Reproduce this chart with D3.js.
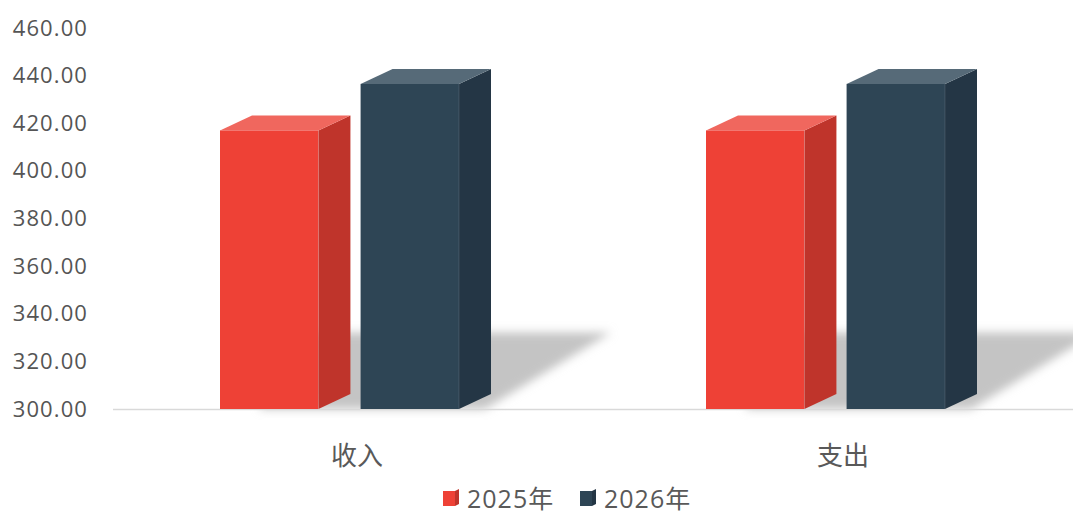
<!DOCTYPE html>
<html>
<head>
<meta charset="utf-8">
<script src="https://cdn.jsdelivr.net/npm/d3@7"></script>
<style>
  html, body { margin: 0; padding: 0; background: #fff; }
  svg { display: block; font-family: "Open Sans", "Noto Sans CJK SC", sans-serif; }
</style>
</head>
<body>
<div id="chart"></div>
<script>
const categories = ['收入', '支出'];
const seriesNames = ['2025年', '2026年'];
const values2025 = [417, 417];
const values2026 = [436.5, 436.5];
const yTicks = [300, 320, 340, 360, 380, 400, 420, 440, 460];

const faces = {
  '2025年': { front: '#ee4136', top: '#f0675e', side: '#bf342b' },
  '2026年': { front: '#2e4555', top: '#566a78', side: '#243645' }
};

const width = 1073, height = 513;
const svg = d3.select('#chart').append('svg')
  .attr('width', width).attr('height', height);

const y = d3.scaleLinear().domain([300, 460]).range([409, 28]);
const x = d3.scaleBand().domain(categories).range([113, 1085]);
const sub = d3.scaleBand().domain(seriesNames).range([-136, 103]).paddingInner(0.3);

const depthX = 32, depthY = 15;

const rows = categories.map((c, i) => ({
  cat: c,
  bars: [
    { name: seriesNames[0], value: values2025[i] },
    { name: seriesNames[1], value: values2026[i] }
  ]
}));

// shadow blur
const defs = svg.append('defs');
defs.append('filter').attr('id', 'blur')
  .attr('x', '-20%').attr('y', '-50%').attr('width', '140%').attr('height', '200%')
  .append('feGaussianBlur').attr('stdDeviation', 5);

// y axis labels
const yAxis = svg.append('g')
  .attr('transform', 'translate(88,0)')
  .call(d3.axisLeft(y).tickValues(yTicks).tickFormat(d3.format('.2f')).tickSize(0).tickPadding(0));
yAxis.select('.domain').remove();
yAxis.selectAll('text')
  .attr('fill', '#555555')
  .style('font-size', '22px')
  .style('letter-spacing', '1.1px')
  .style('font-family', '"Open Sans", sans-serif');

// cast shadows
const base = y(300);
svg.append('g').selectAll('polygon')
  .data(rows)
  .join('polygon')
  .attr('filter', 'url(#blur)')
  .attr('fill', '#c4c4c4')
  .attr('points', d => {
    const cx = x(d.cat) + x.bandwidth() / 2;
    const left = cx + sub(seriesNames[0]) + 40;
    const right = cx + sub(seriesNames[1]) + sub.bandwidth();
    const h = base - y(d3.max(d.bars, b => b.value));
    const top = base - h * 0.235;
    return [[left, base], [left + 20, top], [right + 152, top], [right + 26, base]]
      .map(p => p.join(',')).join(' ');
  });

// baseline
svg.append('line')
  .attr('x1', 113).attr('x2', width)
  .attr('y1', base + 0.5).attr('y2', base + 0.5)
  .attr('stroke', '#d9d9d9').attr('stroke-width', 1.5);

// 3D bars
const bars = svg.append('g').selectAll('g.cat')
  .data(rows)
  .join('g')
  .attr('class', 'cat')
  .attr('transform', d => `translate(${x(d.cat) + x.bandwidth() / 2},0)`)
  .selectAll('g.bar')
  .data(d => d.bars)
  .join('g')
  .attr('class', 'bar');

bars.each(function (d) {
  const g = d3.select(this);
  const x0 = sub(d.name), w = sub.bandwidth();
  const yt = y(d.value);
  const f = faces[d.name];
  g.append('rect')
    .attr('x', x0).attr('y', yt).attr('width', w).attr('height', base - yt)
    .attr('fill', f.front);
  g.append('polygon')
    .attr('fill', f.side)
    .attr('points', [[x0 + w, yt], [x0 + w + depthX, yt - depthY], [x0 + w + depthX, base - depthY], [x0 + w, base]]
      .map(p => p.join(',')).join(' '));
  g.append('polygon')
    .attr('fill', f.top)
    .attr('points', [[x0, yt], [x0 + depthX, yt - depthY], [x0 + w + depthX, yt - depthY], [x0 + w, yt]]
      .map(p => p.join(',')).join(' '));
  g.append('line')
    .attr('x1', x0 + w).attr('x2', x0 + w).attr('y1', yt).attr('y2', base)
    .attr('stroke', '#ffffff').attr('stroke-opacity', 0.12).attr('stroke-width', 1);
});

// category labels
svg.append('g').selectAll('text')
  .data(categories)
  .join('text')
  .attr('x', d => x(d) + x.bandwidth() / 2 + 1)
  .attr('y', 465)
  .attr('text-anchor', 'middle')
  .attr('fill', '#595959')
  .style('font-size', '26px')
  .text(d => d);

// legend
const legendX = [443, 580];
const legend = svg.append('g').selectAll('g')
  .data(seriesNames)
  .join('g')
  .attr('transform', (d, i) => `translate(${legendX[i]},491)`);
legend.append('rect')
  .attr('width', 12).attr('height', 15)
  .attr('fill', d => faces[d].front);
legend.append('polygon')
  .attr('fill', d => faces[d].side)
  .attr('points', '12,0 16,-2 16,13 12,15');
legend.append('text')
  .attr('x', 24).attr('y', 16.5)
  .attr('fill', '#595959')
  .style('font-size', '25px')
  .style('letter-spacing', '1px')
  .text(d => d);
</script>
</body>
</html>
